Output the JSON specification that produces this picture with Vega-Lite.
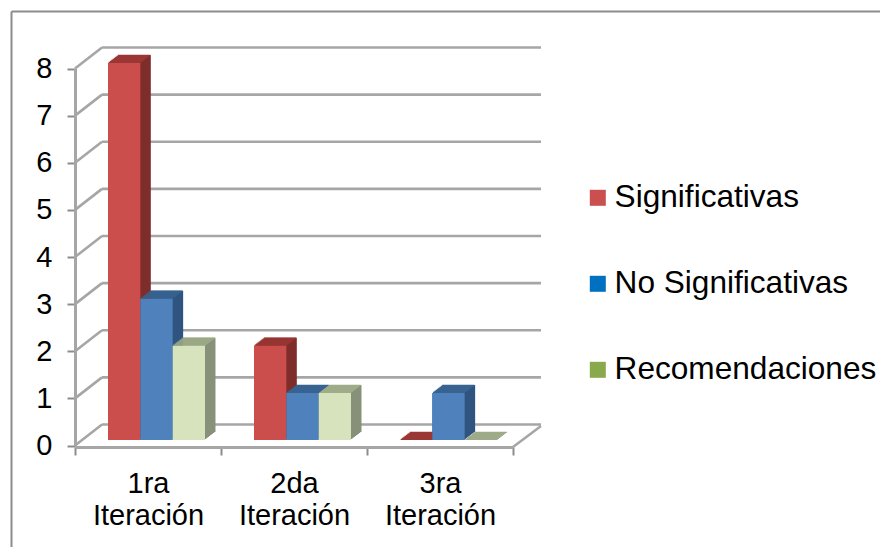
{"$schema":"https://vega.github.io/schema/vega-lite/v6.json","width":880,"height":547,"padding":0,"autosize":{"type":"none"},"background":"#ffffff","config":{"view":{"stroke":null},"font":"Liberation Sans"},"datasets":{"conteos":[{"iteracion":"1ra Iteración","serie":"Significativas","valor":8},{"iteracion":"1ra Iteración","serie":"No Significativas","valor":3},{"iteracion":"1ra Iteración","serie":"Recomendaciones","valor":2},{"iteracion":"2da Iteración","serie":"Significativas","valor":2},{"iteracion":"2da Iteración","serie":"No Significativas","valor":1},{"iteracion":"2da Iteración","serie":"Recomendaciones","valor":1},{"iteracion":"3ra Iteración","serie":"Significativas","valor":0},{"iteracion":"3ra Iteración","serie":"No Significativas","valor":1},{"iteracion":"3ra Iteración","serie":"Recomendaciones","valor":0}],"niveles":[{"nivel":0},{"nivel":1},{"nivel":2},{"nivel":3},{"nivel":4},{"nivel":5},{"nivel":6},{"nivel":7},{"nivel":8}]},"resolve":{"scale":{"x":"independent","y":"independent"},"axis":{"x":"independent","y":"independent"}},"layer":[{"mark":{"type":"point","opacity":0},"encoding":{"x":{"datum":0,"type":"quantitative","scale":{"domain":[0,1],"range":[11,880]},"axis":{"orient":"top","offset":-11,"domain":true,"domainColor":"#8c8c8c","domainWidth":2,"ticks":false,"labels":false,"grid":false,"title":null}},"y":{"datum":0,"type":"quantitative","scale":{"domain":[0,1],"range":[547,11]},"axis":{"orient":"left","offset":-11,"domain":true,"domainColor":"#8c8c8c","domainWidth":2,"ticks":false,"labels":false,"grid":false,"title":null}}}},{"data":{"name":"niveles"},"encoding":{"x":{"datum":0,"type":"quantitative","scale":{"domain":[0,3],"range":[75,513]},"axis":null},"y":{"field":"nivel","type":"quantitative","scale":{"domain":[0,8],"range":[445.5,68.5]},"axis":null}},"layer":[{"mark":{"type":"rule","color":"#a6a6a6","strokeWidth":2.6,"xOffset":27,"x2Offset":28,"yOffset":-21,"y2Offset":-21},"encoding":{"x2":{"datum":3},"y2":{"field":"nivel"}}},{"mark":{"type":"rule","color":"#a6a6a6","strokeWidth":2.6,"x2Offset":27,"y2Offset":-21},"encoding":{"x2":{"datum":0},"y2":{"field":"nivel"}}},{"transform":[{"filter":"datum.nivel === 0"}],"mark":{"type":"rule","color":"#a6a6a6","strokeWidth":2.6,"xOffset":0,"yOffset":1.5,"x2Offset":28,"y2Offset":-19.5},"encoding":{"x":{"datum":3},"x2":{"datum":3},"y2":{"field":"nivel"}}}]},{"data":{"name":"conteos"},"resolve":{"scale":{"color":"independent","xOffset":"independent"},"legend":{"color":"independent"}},"encoding":{"x":{"field":"iteracion","type":"nominal","sort":null,"scale":{"range":[75,513],"paddingInner":0,"paddingOuter":0},"axis":{"orient":"bottom","offset":-100,"title":null,"labelAngle":0,"labelAlign":"center","labelBaseline":"top","labelExpr":"split(datum.label,' ')","labelFontSize":29,"labelColor":"#000000","labelLineHeight":32,"labelPadding":14.5,"labelFont":"Liberation Sans","tickBand":"extent","tickSize":8,"tickColor":"#8c8c8c","tickWidth":2,"domainColor":"#a6a6a6","domainWidth":3,"grid":false}},"y":{"field":"valor","type":"quantitative","stack":null,"scale":{"domain":[0,8],"range":[445.5,68.5]},"axis":{"orient":"left","offset":-75,"title":null,"values":[0,1,2,3,4,5,6,7,8],"format":"d","labelFontSize":29,"labelColor":"#000000","labelPadding":15,"labelFont":"Liberation Sans","tickSize":8,"tickColor":"#8c8c8c","tickWidth":2,"domainColor":"#a6a6a6","domainWidth":3,"grid":false}}},"layer":[{"mark":{"type":"bar","yOffset":-5.5,"y2Offset":-5.5},"encoding":{"xOffset":{"field":"serie","type":"nominal","sort":null,"scale":{"domain":["Significativas","No Significativas","Recomendaciones"],"range":[33,130],"paddingInner":0,"paddingOuter":0}},"y2":{"datum":0},"color":{"field":"serie","type":"nominal","sort":null,"scale":{"domain":["Significativas","No Significativas","Recomendaciones"],"range":["#c9504f","#0070c0","#8aa84c"]},"legend":{"orient":"none","legendX":582,"legendY":182,"title":null,"symbolType":"square","symbolSize":256,"symbolStrokeWidth":0,"labelFontSize":31.6,"labelColor":"#000000","labelFont":"Liberation Sans","labelLimit":400,"labelOffset":1,"rowPadding":53,"padding":0}}}},{"resolve":{"scale":{"xOffset":"independent"}},"encoding":{"y2":{"datum":0},"color":{"field":"serie","type":"nominal","sort":null,"legend":null,"scale":{"domain":["Significativas","No Significativas","Recomendaciones"],"range":["#7f2d2b","#2f5480","#879078"]}}},"layer":[{"mark":{"type":"bar","yOffset":-6.5,"y2Offset":-6.5},"encoding":{"xOffset":{"field":"serie","type":"nominal","sort":null,"scale":{"domain":["Significativas","No Significativas","Recomendaciones"],"range":[34.31,131.31],"paddingInner":0,"paddingOuter":0}}}},{"mark":{"type":"bar","yOffset":-7.5,"y2Offset":-7.5},"encoding":{"xOffset":{"field":"serie","type":"nominal","sort":null,"scale":{"domain":["Significativas","No Significativas","Recomendaciones"],"range":[35.62,132.62],"paddingInner":0,"paddingOuter":0}}}},{"mark":{"type":"bar","yOffset":-8.5,"y2Offset":-8.5},"encoding":{"xOffset":{"field":"serie","type":"nominal","sort":null,"scale":{"domain":["Significativas","No Significativas","Recomendaciones"],"range":[36.93,133.93],"paddingInner":0,"paddingOuter":0}}}},{"mark":{"type":"bar","yOffset":-9.5,"y2Offset":-9.5},"encoding":{"xOffset":{"field":"serie","type":"nominal","sort":null,"scale":{"domain":["Significativas","No Significativas","Recomendaciones"],"range":[38.24,135.24],"paddingInner":0,"paddingOuter":0}}}},{"mark":{"type":"bar","yOffset":-10.5,"y2Offset":-10.5},"encoding":{"xOffset":{"field":"serie","type":"nominal","sort":null,"scale":{"domain":["Significativas","No Significativas","Recomendaciones"],"range":[39.55,136.55],"paddingInner":0,"paddingOuter":0}}}},{"mark":{"type":"bar","yOffset":-11.5,"y2Offset":-11.5},"encoding":{"xOffset":{"field":"serie","type":"nominal","sort":null,"scale":{"domain":["Significativas","No Significativas","Recomendaciones"],"range":[40.86,137.86],"paddingInner":0,"paddingOuter":0}}}},{"mark":{"type":"bar","yOffset":-12.5,"y2Offset":-12.5},"encoding":{"xOffset":{"field":"serie","type":"nominal","sort":null,"scale":{"domain":["Significativas","No Significativas","Recomendaciones"],"range":[42.17,139.17],"paddingInner":0,"paddingOuter":0}}}},{"mark":{"type":"bar","yOffset":-13.5,"y2Offset":-13.5},"encoding":{"xOffset":{"field":"serie","type":"nominal","sort":null,"scale":{"domain":["Significativas","No Significativas","Recomendaciones"],"range":[43.48,140.48],"paddingInner":0,"paddingOuter":0}}}}]},{"resolve":{"scale":{"xOffset":"independent"}},"encoding":{"y2":{"field":"valor"},"color":{"field":"serie","type":"nominal","sort":null,"legend":null,"scale":{"domain":["Significativas","No Significativas","Recomendaciones"],"range":["#9a3634","#38628f","#9eab88"]}}},"layer":[{"mark":{"type":"bar","yOffset":-6.7,"y2Offset":-5.5},"encoding":{"xOffset":{"field":"serie","type":"nominal","sort":null,"scale":{"domain":["Significativas","No Significativas","Recomendaciones"],"range":[33.65,130.65],"paddingInner":0,"paddingOuter":0}}}},{"mark":{"type":"bar","yOffset":-7.7,"y2Offset":-6.5},"encoding":{"xOffset":{"field":"serie","type":"nominal","sort":null,"scale":{"domain":["Significativas","No Significativas","Recomendaciones"],"range":[34.96,131.96],"paddingInner":0,"paddingOuter":0}}}},{"mark":{"type":"bar","yOffset":-8.7,"y2Offset":-7.5},"encoding":{"xOffset":{"field":"serie","type":"nominal","sort":null,"scale":{"domain":["Significativas","No Significativas","Recomendaciones"],"range":[36.27,133.27],"paddingInner":0,"paddingOuter":0}}}},{"mark":{"type":"bar","yOffset":-9.7,"y2Offset":-8.5},"encoding":{"xOffset":{"field":"serie","type":"nominal","sort":null,"scale":{"domain":["Significativas","No Significativas","Recomendaciones"],"range":[37.58,134.58],"paddingInner":0,"paddingOuter":0}}}},{"mark":{"type":"bar","yOffset":-10.7,"y2Offset":-9.5},"encoding":{"xOffset":{"field":"serie","type":"nominal","sort":null,"scale":{"domain":["Significativas","No Significativas","Recomendaciones"],"range":[38.89,135.89],"paddingInner":0,"paddingOuter":0}}}},{"mark":{"type":"bar","yOffset":-11.7,"y2Offset":-10.5},"encoding":{"xOffset":{"field":"serie","type":"nominal","sort":null,"scale":{"domain":["Significativas","No Significativas","Recomendaciones"],"range":[40.2,137.2],"paddingInner":0,"paddingOuter":0}}}},{"mark":{"type":"bar","yOffset":-12.7,"y2Offset":-11.5},"encoding":{"xOffset":{"field":"serie","type":"nominal","sort":null,"scale":{"domain":["Significativas","No Significativas","Recomendaciones"],"range":[41.51,138.51],"paddingInner":0,"paddingOuter":0}}}},{"mark":{"type":"bar","yOffset":-13.7,"y2Offset":-12.5},"encoding":{"xOffset":{"field":"serie","type":"nominal","sort":null,"scale":{"domain":["Significativas","No Significativas","Recomendaciones"],"range":[42.82,139.82],"paddingInner":0,"paddingOuter":0}}}}]},{"mark":{"type":"bar","yOffset":-5.5,"y2Offset":-5.5},"encoding":{"xOffset":{"field":"serie","type":"nominal","sort":null,"scale":{"domain":["Significativas","No Significativas","Recomendaciones"],"range":[33,130],"paddingInner":0,"paddingOuter":0}},"y2":{"datum":0},"color":{"field":"serie","type":"nominal","sort":null,"legend":null,"scale":{"domain":["Significativas","No Significativas","Recomendaciones"],"range":["#cb4d4c","#4f81bd","#d6e3bc"]}}}}]}]}
